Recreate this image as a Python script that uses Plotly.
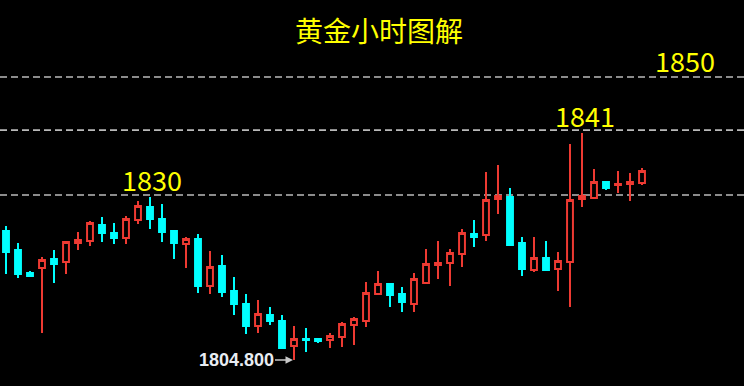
import plotly.graph_objects as go

# Hourly gold candles
opens = [1823.90, 1820.68, 1816.78, 1817.63, 1819.15, 1818.64, 1821.86, 1822.20, 1824.92, 1823.56,
         1822.71, 1825.76, 1827.97, 1825.93, 1823.90, 1821.69, 1822.54, 1814.58, 1817.97, 1813.73,
         1811.53, 1807.80, 1809.66, 1808.64, 1804.41, 1805.59, 1805.59, 1805.42, 1805.93, 1807.97,
         1808.64, 1813.22, 1814.92, 1813.22, 1811.53, 1815.08, 1818.14, 1818.47, 1820.00, 1823.39,
         1823.22, 1829.32, 1829.66, 1821.86, 1817.29, 1819.32, 1817.46, 1818.64, 1829.32, 1829.49,
         1832.20, 1831.69, 1831.86, 1832.03]
highs = [1824.75, 1821.86, 1817.12, 1819.49, 1820.68, 1822.20, 1823.73, 1825.59, 1826.27, 1825.25,
         1826.44, 1828.98, 1829.66, 1828.47, 1823.90, 1822.88, 1823.39, 1820.51, 1819.83, 1816.10,
         1813.22, 1812.20, 1811.02, 1809.66, 1807.80, 1807.46, 1805.59, 1806.61, 1808.47, 1809.32,
         1815.25, 1817.12, 1814.92, 1814.41, 1816.78, 1820.85, 1822.20, 1820.85, 1824.24, 1825.76,
         1833.90, 1835.08, 1831.19, 1822.88, 1822.88, 1822.20, 1820.34, 1838.64, 1840.51, 1834.41,
         1832.20, 1834.07, 1833.73, 1834.58]
lows = [1816.61, 1815.93, 1816.10, 1806.61, 1815.08, 1816.61, 1820.68, 1821.36, 1822.03, 1821.69,
        1821.69, 1825.08, 1824.24, 1822.03, 1819.15, 1817.63, 1813.39, 1813.22, 1812.71, 1809.66,
        1806.44, 1806.61, 1807.97, 1803.90, 1802.03, 1803.39, 1804.92, 1804.07, 1804.24, 1804.58,
        1807.63, 1813.05, 1811.02, 1810.17, 1810.17, 1815.08, 1815.76, 1814.58, 1817.80, 1821.19,
        1822.20, 1826.78, 1821.36, 1816.27, 1816.95, 1817.29, 1813.73, 1811.02, 1827.97, 1829.32,
        1830.85, 1830.34, 1828.98, 1831.69]
closes = [1820.34, 1816.61, 1816.27, 1818.98, 1818.31, 1822.03, 1822.37, 1825.25, 1823.56, 1822.71,
          1825.93, 1828.14, 1825.93, 1823.73, 1821.86, 1822.54, 1814.58, 1817.80, 1813.56, 1811.53,
          1807.80, 1809.83, 1808.64, 1804.07, 1805.59, 1805.42, 1805.25, 1806.10, 1808.14, 1808.98,
          1813.39, 1814.92, 1813.05, 1811.86, 1815.76, 1818.31, 1818.47, 1820.17, 1823.56, 1822.88,
          1829.15, 1829.83, 1821.53, 1817.46, 1819.32, 1817.29, 1818.81, 1829.15, 1829.83, 1832.20,
          1831.19, 1831.86, 1832.20, 1834.07]
bars = list(range(len(opens)))

levels = [1850, 1841, 1830]
level_labels = ["1850", "1841", "1830"]
low_label = "1804.800"
low_index = 24
title_text = "黄金小时图解"

RED = "#ee3a32"
CYAN = "#00ffff"
YELLOW = "#ffff00"

fig = go.Figure()
fig.add_trace(go.Candlestick(
    x=bars, open=opens, high=highs, low=lows, close=closes,
    increasing=dict(line=dict(color=RED, width=2), fillcolor="#000000"),
    decreasing=dict(line=dict(color=CYAN, width=2), fillcolor=CYAN),
    whiskerwidth=0, hoverinfo="skip", showlegend=False,
))

for lv in levels:
    fig.add_shape(type="line", xref="paper", x0=0, x1=1, yref="y", y0=lv, y1=lv,
                  line=dict(color="#bababa", width=1.6, dash="7px,4px"), layer="below")

label_pos = {"1850": (685 / 744, 60), "1841": (585 / 744, 116), "1830": (152 / 744, 179)}
font_cjk = "Noto Sans CJK SC, Noto Sans, sans-serif"
for lab in level_labels:
    px, py = label_pos[lab]
    fig.add_annotation(text=lab, xref="paper", yref="paper", x=px, y=1 - py / 386,
                       xanchor="center", yanchor="middle", showarrow=False,
                       font=dict(family=font_cjk, size=27, color=YELLOW))

fig.add_annotation(text=title_text, xref="paper", yref="paper", x=379 / 744, y=1 - 30 / 386,
                   xanchor="center", yanchor="middle", showarrow=False,
                   font=dict(family=font_cjk, size=28, color=YELLOW))

fig.add_annotation(text="<b>" + low_label + "</b>", x=bars[low_index], y=lows[low_index],
                   xref="x", yref="y", showarrow=True, ax=-58, ay=0,
                   arrowhead=2, arrowsize=1, arrowwidth=1.5, arrowcolor="#c8c8c8", standoff=1,
                   font=dict(family="Liberation Sans, Arial, sans-serif", size=18, color="#e8ecf2"))

fig.update_layout(
    width=744, height=386,
    margin=dict(l=0, r=0, t=0, b=0),
    paper_bgcolor="#000000", plot_bgcolor="#000000",
    xaxis=dict(range=[-0.5, 61.5], visible=False, rangeslider=dict(visible=False), fixedrange=True),
    yaxis=dict(range=[1850 - 309 / 5.9, 1850 + 77 / 5.9], visible=False, fixedrange=True),
    showlegend=False,
)

fig.write_html("out.html", config={"displayModeBar": False},
               post_script="document.body.style.margin='0';document.body.style.background='#000';"
                           "document.body.style.overflow='hidden';")
